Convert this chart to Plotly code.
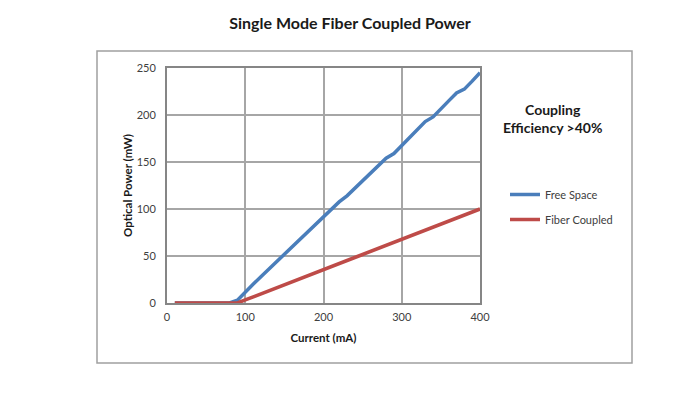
import plotly.graph_objects as go

current_ma = [10, 20, 30, 40, 50, 60, 70, 80, 90, 100, 110, 120, 130, 140, 150, 160, 170, 180, 190, 200,
              210, 220, 230, 240, 250, 260, 270, 280, 290, 300, 310, 320, 330, 340, 350, 360, 370, 380, 390, 400]
free_space = [0, 0, 0, 0, 0, 0, 0, 0, 3, 12, 20, 28, 36, 44, 52, 60, 68, 76, 84, 91.5,
              99.5, 107.5, 114, 122, 130, 138, 146, 154, 159, 167.5, 176, 184, 193, 198, 207, 215, 223.5, 227.5, 236, 245]
fiber_coupled = [0, 0, 0, 0, 0, 0, 0, 0, 0, 3.2, 6.5, 9.7, 12.9, 16.1, 19.4, 22.6, 25.8, 29.0, 32.3, 35.5,
                 38.7, 41.9, 45.2, 48.4, 51.6, 54.8, 58.1, 61.3, 64.5, 67.7, 71.0, 74.2, 77.4, 80.6, 83.9, 87.1, 90.3, 93.5, 96.8, 100]

x_ticks = [0, 100, 200, 300, 400]
y_ticks = [0, 50, 100, 150, 200, 250]

FONT = "Lato"
fig = go.Figure()
fig.add_trace(go.Scatter(x=current_ma, y=free_space, mode="lines", name="Free Space", legendgroup="a",
                         line=dict(color="#4A7EBB", width=3.5)))
fig.add_trace(go.Scatter(x=current_ma, y=fiber_coupled, mode="lines", name="Fiber Coupled", legendgroup="b",
                         line=dict(color="#BE4B48", width=3.5)))

fig.update_layout(
    width=700, height=397,
    margin=dict(l=167, r=220, t=68, b=94),
    paper_bgcolor="white", plot_bgcolor="white",
    font=dict(family=FONT, size=11, color="#404040"),
    title=dict(text="<b>Single Mode Fiber Coupled Power</b>", x=0.5, xref="container",
               y=1 - 23 / 397, yanchor="middle", font=dict(family=FONT, size=16, color="#1a1a1a")),
    xaxis=dict(range=[0, 400], tickvals=x_ticks, showgrid=True, gridcolor="#A6A6A6", gridwidth=1.5,
               showline=True, linecolor="#868686", linewidth=2, mirror=True, zeroline=False,
               ticks="", ticklabelstandoff=3, fixedrange=True,
               title=dict(text="<b>Current (mA)</b>", standoff=12, font=dict(size=11.5, color="#1a1a1a"))),
    yaxis=dict(range=[0, 250], tickvals=y_ticks, showgrid=True, gridcolor="#A6A6A6", gridwidth=1.5,
               showline=True, linecolor="#868686", linewidth=2, mirror=True, zeroline=False,
               ticks="", ticklabelstandoff=7, fixedrange=True,
               title=dict(text="<b>Optical Power (mW)</b>", standoff=2, font=dict(size=11.5, color="#1a1a1a"))),
    legend=dict(x=(505 - 167) / 313, y=(303 - 207) / 235, xanchor="left", yanchor="middle",
                bgcolor="rgba(0,0,0,0)", font=dict(size=11, color="#404040"), itemwidth=30, tracegroupgap=6),
    showlegend=True,
)

fig.add_shape(type="rect", xref="paper", yref="paper",
              x0=(97 - 167) / 313, x1=(632 - 167) / 313, y0=(303 - 363) / 235, y1=(303 - 51) / 235,
              line=dict(color="#A0A0A0", width=1.5), fillcolor="rgba(0,0,0,0)", layer="below")

fig.add_annotation(text="<b>Coupling<br>Efficiency >40%</b>", xref="paper", yref="paper",
                   x=(552 - 167) / 313, y=(303 - 118) / 235, showarrow=False,
                   xanchor="center", yanchor="middle",
                   font=dict(family=FONT, size=14, color="#1a1a1a"), align="center")

fig.write_html("out.html", config={"displayModeBar": False},
               post_script="document.body.style.margin='0';")
